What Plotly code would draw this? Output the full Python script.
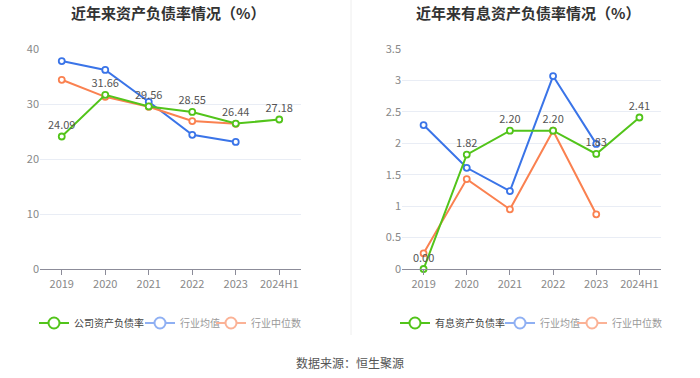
import plotly.graph_objects as go

years = ["2019", "2020", "2021", "2022", "2023", "2024H1"]

# Left chart: 资产负债率
company_debt = [24.09, 31.66, 29.56, 28.55, 26.44, 27.18]
industry_mean_debt = [37.8, 36.2, 30.4, 24.4, 23.1]
industry_median_debt = [34.4, 31.3, 29.5, 26.9, 26.4]

# Right chart: 有息资产负债率
company_int = [0.00, 1.82, 2.20, 2.20, 1.83, 2.41]
industry_mean_int = [2.29, 1.61, 1.24, 3.07, 1.99]
industry_median_int = [0.25, 1.43, 0.95, 2.20, 0.87]

left_ticks = [0, 10, 20, 30, 40]
right_ticks = [0, 0.5, 1, 1.5, 2, 2.5, 3, 3.5]
right_tick_text = ["0", "0.5", "1", "1.5", "2", "2.5", "3", "3.5"]

GREEN = "#52c41a"
BLUE = "#3a74e8"
ORANGE = "#fa8150"
GREEN_L = "#52c41a"
BLUE_L = "#8fb0f3"
ORANGE_L = "#fbb296"
FONT = "Noto Sans CJK SC"

W, H = 700, 378

def px_x(a, b):
    return [a / W, b / W]

def px_y(top, bottom):
    return [(H - bottom) / H, (H - top) / H]

fig = go.Figure()

def add_series(xa, ya, ys, color, labels=False, fmt="{:.2f}"):
    fig.add_trace(go.Scatter(
        x=years[:len(ys)], y=ys, xaxis=xa, yaxis=ya,
        mode="lines+markers+text" if labels else "lines+markers",
        line=dict(color=color, width=2),
        marker=dict(symbol="circle", size=6, color="white", line=dict(color=color, width=1.8)),
        text=[fmt.format(v) for v in ys] if labels else None,
        textposition="top center",
        textfont=dict(family=FONT, size=11, color="#555555"),
        showlegend=False, cliponaxis=False, hoverinfo="skip",
    ))

def add_legend_item(color, name, legend, textcolor, width):
    fig.add_trace(go.Scatter(
        x=[None], y=[None], mode="lines+markers",
        line=dict(color=color, width=2),
        marker=dict(symbol="circle", size=11, color="white", line=dict(color=color, width=2)),
        name=f"<span style='color:{textcolor}'>{name}</span>",
        legend=legend, showlegend=True, xaxis="x", yaxis="y",
        legendwidth=width,
    ))

# left
add_series("x", "y", industry_mean_debt, BLUE)
add_series("x", "y", industry_median_debt, ORANGE)
add_series("x", "y", company_debt, GREEN, labels=True)
# right
add_series("x2", "y2", industry_mean_int, BLUE)
add_series("x2", "y2", industry_median_int, ORANGE)
add_series("x2", "y2", company_int, GREEN, labels=True)

add_legend_item(GREEN_L, "公司资产负债率", "legend", "#444444", 61)
add_legend_item(BLUE_L, "行业均值", "legend", "#999999", 26)
add_legend_item(ORANGE_L, "行业中位数", "legend", "#999999", 60)
add_legend_item(GREEN_L, "有息资产负债率", "legend2", "#444444", 60)
add_legend_item(BLUE_L, "行业均值", "legend2", "#999999", 27)
add_legend_item(ORANGE_L, "行业中位数", "legend2", "#999999", 60)

xcommon = dict(
    type="category", categoryorder="array", categoryarray=years,
    range=[-0.5, 5.5], showgrid=False, showline=True, linecolor="#8c8c99", linewidth=1,
    ticks="outside", ticklen=5, tickcolor="#8c8c99",
    tickfont=dict(family=FONT, size=11, color="#888888"), fixedrange=True,
)
ycommon = dict(
    showgrid=True, gridcolor="#e9edf5", gridwidth=1, zeroline=False, showline=False,
    ticks="", tickfont=dict(family=FONT, size=11, color="#888888"), fixedrange=True,
)

legcommon = dict(
    orientation="h", xanchor="left", yanchor="middle",
    font=dict(family=FONT, size=10, color="#444444"),
    bgcolor="rgba(0,0,0,0)", itemwidth=30, tracegroupgap=0,
)

fig.update_layout(
    width=W, height=H, margin=dict(l=0, r=0, t=0, b=0, autoexpand=False),
    paper_bgcolor="white", plot_bgcolor="white",
    xaxis=dict(domain=px_x(40, 301), anchor="y", **xcommon),
    yaxis=dict(domain=px_y(49, 269), anchor="x", range=[0, 40], tickvals=left_ticks, **ycommon),
    xaxis2=dict(domain=px_x(402, 661), anchor="y2", **xcommon),
    yaxis2=dict(domain=px_y(49, 269), anchor="x2", range=[0, 3.5], tickvals=right_ticks,
                ticktext=right_tick_text, **ycommon),
    legend=dict(x=34 / W, y=(H - 323) / H, **legcommon),
    legend2=dict(x=395 / W, y=(H - 323) / H, **legcommon),
    showlegend=True,
    annotations=[
        dict(text="<b>近年来资产负债率情况（%）</b>", x=168 / W, y=(H - 12) / H, xref="paper", yref="paper",
             showarrow=False, xanchor="center", yanchor="middle",
             font=dict(family=FONT, size=15, color="#333333")),
        dict(text="<b>近年来有息资产负债率情况（%）</b>", x=528 / W, y=(H - 12) / H, xref="paper", yref="paper",
             showarrow=False, xanchor="center", yanchor="middle",
             font=dict(family=FONT, size=15, color="#333333")),
        dict(text="数据来源：恒生聚源", x=350 / W, y=(H - 362) / H, xref="paper", yref="paper",
             showarrow=False, xanchor="center", yanchor="middle",
             font=dict(family=FONT, size=12, color="#555555")),
    ],
    shapes=[
        dict(type="line", xref="paper", yref="paper", x0=351 / W, x1=351 / W,
             y0=(H - 335) / H, y1=1, line=dict(color="#eeeeee", width=1)),
    ],
)

fig.write_html("out.html", config={"displayModeBar": False, "staticPlot": True},
               post_script="document.body.style.margin='0';document.body.style.overflow='hidden';")
